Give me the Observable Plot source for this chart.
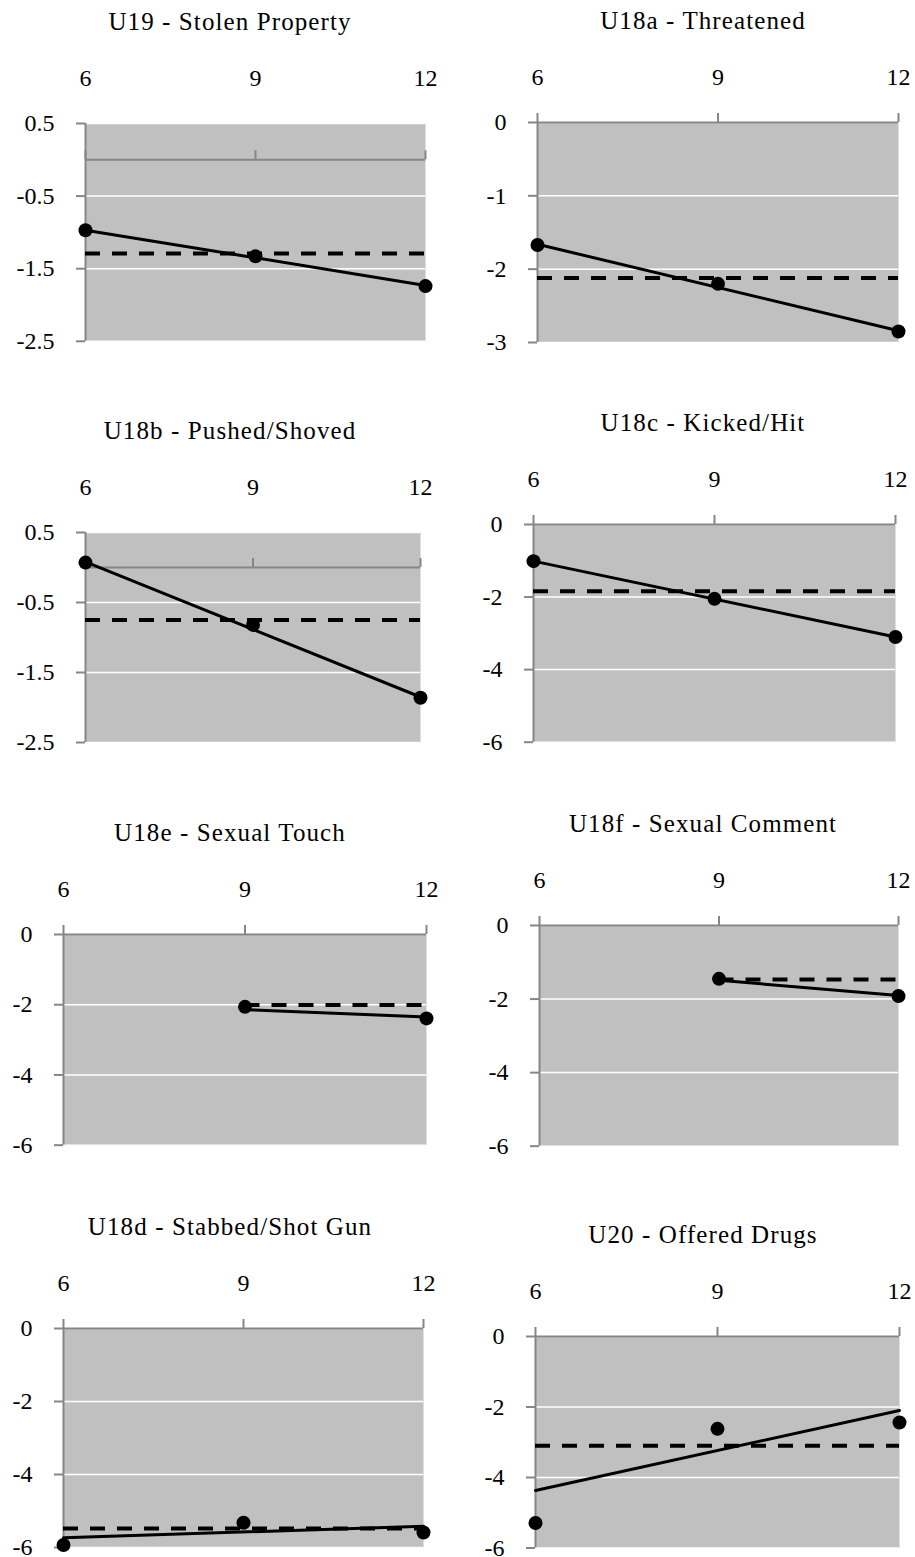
<!DOCTYPE html>
<html>
<head>
<meta charset="utf-8">
<script src="https://cdn.jsdelivr.net/npm/d3@7"></script>
<script src="https://cdn.jsdelivr.net/npm/@observablehq/plot@0.6"></script>
<style>
  html, body { margin: 0; padding: 0; background: #ffffff; overflow: hidden; }
  #root { position: relative; width: 915px; height: 1557px; font-family: 'Liberation Serif', 'Times New Roman', serif; }
  .ttl { position: absolute; transform: translate(-50%, -50%); white-space: nowrap; font-size: 25px; line-height: 25px; letter-spacing: 1.1px; color: #000; }
  .pan { position: absolute; }
</style>
</head>
<body>
<div id="root"></div>
<script>
// ---------------- DATA ----------------
const titles = [
  "U19 - Stolen Property", "U18a - Threatened",
  "U18b - Pushed/Shoved", "U18c - Kicked/Hit",
  "U18e - Sexual Touch", "U18f - Sexual Comment",
  "U18d - Stabbed/Shot Gun", "U20 - Offered Drugs"
];
const xTicks = [6, 9, 12];
const agesFull = [6, 9, 12];
const agesLate = [9, 12];
const yTicksA = [0.5, -0.5, -1.5, -2.5];
const yTicksB = [0, -1, -2, -3];
const yTicksC = [0, -2, -4, -6];

// observed values (dots)
const u19Vals  = [-0.97, -1.33, -1.74];
const u18aVals = [-1.67, -2.20, -2.85];
const u18bVals = [0.07, -0.82, -1.86];
const u18cVals = [-1.01, -2.05, -3.10];
const u18eVals = [-2.06, -2.39];
const u18fVals = [-1.45, -1.92];
const u18dVals = [-5.93, -5.32, -5.59];
const u20Vals  = [-5.29, -2.62, -2.44];

// dashed reference level per panel
const meanLevels = [-1.29, -2.12, -0.75, -1.84, -2.01, -1.47, -5.48, -3.10];
// solid fitted line: value at first age and at age 12
const trendStart = [-0.97, -1.66, 0.08, -1.01, -2.14, -1.49, -5.73, -4.37];
const trendEnd   = [-1.73, -2.84, -1.85, -3.10, -2.35, -1.90, -5.42, -2.10];

// ---------------- LAYOUT ----------------
const panelDefs = [
  {vals: u19Vals,  ages: agesFull, ticks: yTicksA, frame: [85, 425, 122.7, 340.5], col: 0},
  {vals: u18aVals, ages: agesFull, ticks: yTicksB, frame: [537, 898, 121.7, 341.7], col: 1},
  {vals: u18bVals, ages: agesFull, ticks: yTicksA, frame: [85, 420, 531.7, 741.7], col: 0},
  {vals: u18cVals, ages: agesFull, ticks: yTicksC, frame: [533, 895, 524, 741.7], col: 1},
  {vals: u18eVals, ages: agesLate, ticks: yTicksC, frame: [63, 426, 934.3, 1145], col: 0},
  {vals: u18fVals, ages: agesLate, ticks: yTicksC, frame: [539, 898, 925, 1145.7], col: 1},
  {vals: u18dVals, ages: agesFull, ticks: yTicksC, frame: [63, 423, 1327.7, 1546.7], col: 0},
  {vals: u20Vals,  ages: agesFull, ticks: yTicksC, frame: [535, 899, 1335.7, 1547.2], col: 1}
];
const colX = [0, 457];
const colW = [457, 458];
const colTitleCenter = [230, 703];
const AXIS = "#868686";
const BG = "#c0c0c0";
const FONT = "'Liberation Serif', 'Times New Roman', serif";

const root = document.getElementById("root");

panelDefs.forEach((p, i) => {
  const [fl, fr, ft, fb] = p.frame;
  const mTop = 80, mBottom = 9;
  const left = colX[p.col], w = colW[p.col];
  const h = (fb - ft) + mTop + mBottom;
  const yDom = [Math.min(...p.ticks), Math.max(...p.ticks)];
  const pts = p.ages.map((a, k) => ({age: a, value: p.vals[k]}));
  const first = p.ages[0];
  const trend = [{age: first, value: trendStart[i]}, {age: 12, value: trendEnd[i]}];

  const chart = Plot.plot({
    width: w,
    height: h,
    marginTop: mTop,
    marginBottom: mBottom,
    marginLeft: fl - left,
    marginRight: left + w - fr,
    style: {fontFamily: FONT, fontSize: "24px", background: "transparent", overflow: "visible", color: "#000"},
    x: {domain: [6, 12], axis: null},
    y: {domain: yDom, axis: null},
    marks: [
      Plot.frame({fill: BG, stroke: null}),
      Plot.gridY({ticks: p.ticks, stroke: "#ffffff", strokeOpacity: 1, strokeWidth: 1.5}),
      Plot.ruleY([0], {stroke: AXIS, strokeWidth: 2}),
      Plot.ruleX([6], {stroke: AXIS, strokeWidth: 2}),
      Plot.ruleX(xTicks, {x: d => d, y1: 0, y2: 0, insetBottom: 9, stroke: AXIS, strokeWidth: 2}),
      Plot.axisY({ticks: p.ticks, label: null, tickSize: 9, tickPadding: 22, stroke: AXIS, strokeWidth: 2, color: "#000", fill: "#000",
                  fontSize: 24, tickFormat: d => String(d)}),
      Plot.text(xTicks, {x: d => d, frameAnchor: "top", dy: -45, text: d => String(d), fontSize: 24, fill: "#000", lineAnchor: "middle"}),
      Plot.ruleY([meanLevels[i]], {x1: first, x2: 12, stroke: "#000", strokeWidth: 4, strokeDasharray: "15,12"}),
      Plot.line(trend, {x: "age", y: "value", stroke: "#000", strokeWidth: 3}),
      Plot.dot(pts, {x: "age", y: "value", r: 7, fill: "#000", stroke: null})
    ]
  });
  const wrap = document.createElement("div");
  wrap.className = "pan";
  wrap.style.left = left + "px";
  wrap.style.top = (ft - mTop) + "px";
  wrap.appendChild(chart);
  root.appendChild(wrap);

  const t = document.createElement("div");
  t.className = "ttl";
  t.textContent = titles[i];
  t.style.left = colTitleCenter[p.col] + "px";
  t.style.top = (ft - 102) + "px";
  root.appendChild(t);
});
</script>
</body>
</html>
